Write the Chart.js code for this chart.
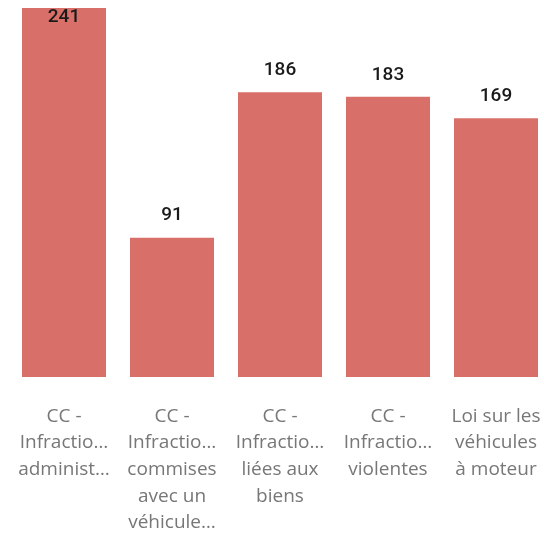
<!DOCTYPE html>
<html>
<head>
<meta charset="utf-8">
<script src="https://cdn.jsdelivr.net/npm/chart.js@4"></script>
<style>
  html, body { margin: 0; padding: 0; background: #fff; overflow: hidden; }
  #wrap { width: 544px; height: 534px; overflow: hidden; }
</style>
</head>
<body>
<div id="wrap"><canvas id="barChart" width="550" height="534"></canvas></div>
<script>
const categories = [
  ["CC -", "Infractio…", "administ…"],
  ["CC -", "Infractio…", "commises", "avec un", "véhicule…"],
  ["CC -", "Infractio…", "liées aux", "biens"],
  ["CC -", "Infractio…", "violentes"],
  ["Loi sur les", "véhicules", "à moteur"]
];
const counts = [241, 91, 186, 183, 169];
const yMax = 241;

// value labels above each bar, kept inside the canvas
const valueLabels = {
  id: "valueLabels",
  afterDatasetsDraw(chart) {
    const ctx = chart.ctx;
    const meta = chart.getDatasetMeta(0);
    ctx.save();
    ctx.font = "500 19px Roboto";
    ctx.fillStyle = "#1a1a1a";
    ctx.textAlign = "center";
    ctx.textBaseline = "middle";
    meta.data.forEach((bar, i) => {
      const y = Math.max(bar.y - 22, 17);
      ctx.fillText(String(counts[i]), bar.x, y);
    });
    ctx.restore();
  }
};

const ctx = document.getElementById("barChart").getContext("2d");
new Chart(ctx, {
  type: "bar",
  data: {
    labels: categories,
    datasets: [{
      data: counts,
      backgroundColor: "#D87069",
      categoryPercentage: 1,
      barPercentage: 0.7778
    }]
  },
  options: {
    responsive: false,
    animation: false,
    layout: { autoPadding: false, padding: { left: 10, right: 0, top: 8, bottom: 0 } },
    plugins: { legend: { display: false }, tooltip: { enabled: false } },
    scales: {
      x: {
        grid: { display: false },
        border: { display: false },
        ticks: {
          color: "#777777",
          font: { family: "'Open Sans'", size: 19, lineHeight: 1.4 },
          padding: 18,
          maxRotation: 0,
          autoSkip: false
        },
        afterFit(scale) {
          scale.height = 157;
          scale.paddingLeft = 0;
          scale.paddingRight = 0;
        }
      },
      y: {
        display: false,
        min: 0,
        max: yMax
      }
    }
  },
  plugins: [valueLabels]
});
</script>
</body>
</html>
